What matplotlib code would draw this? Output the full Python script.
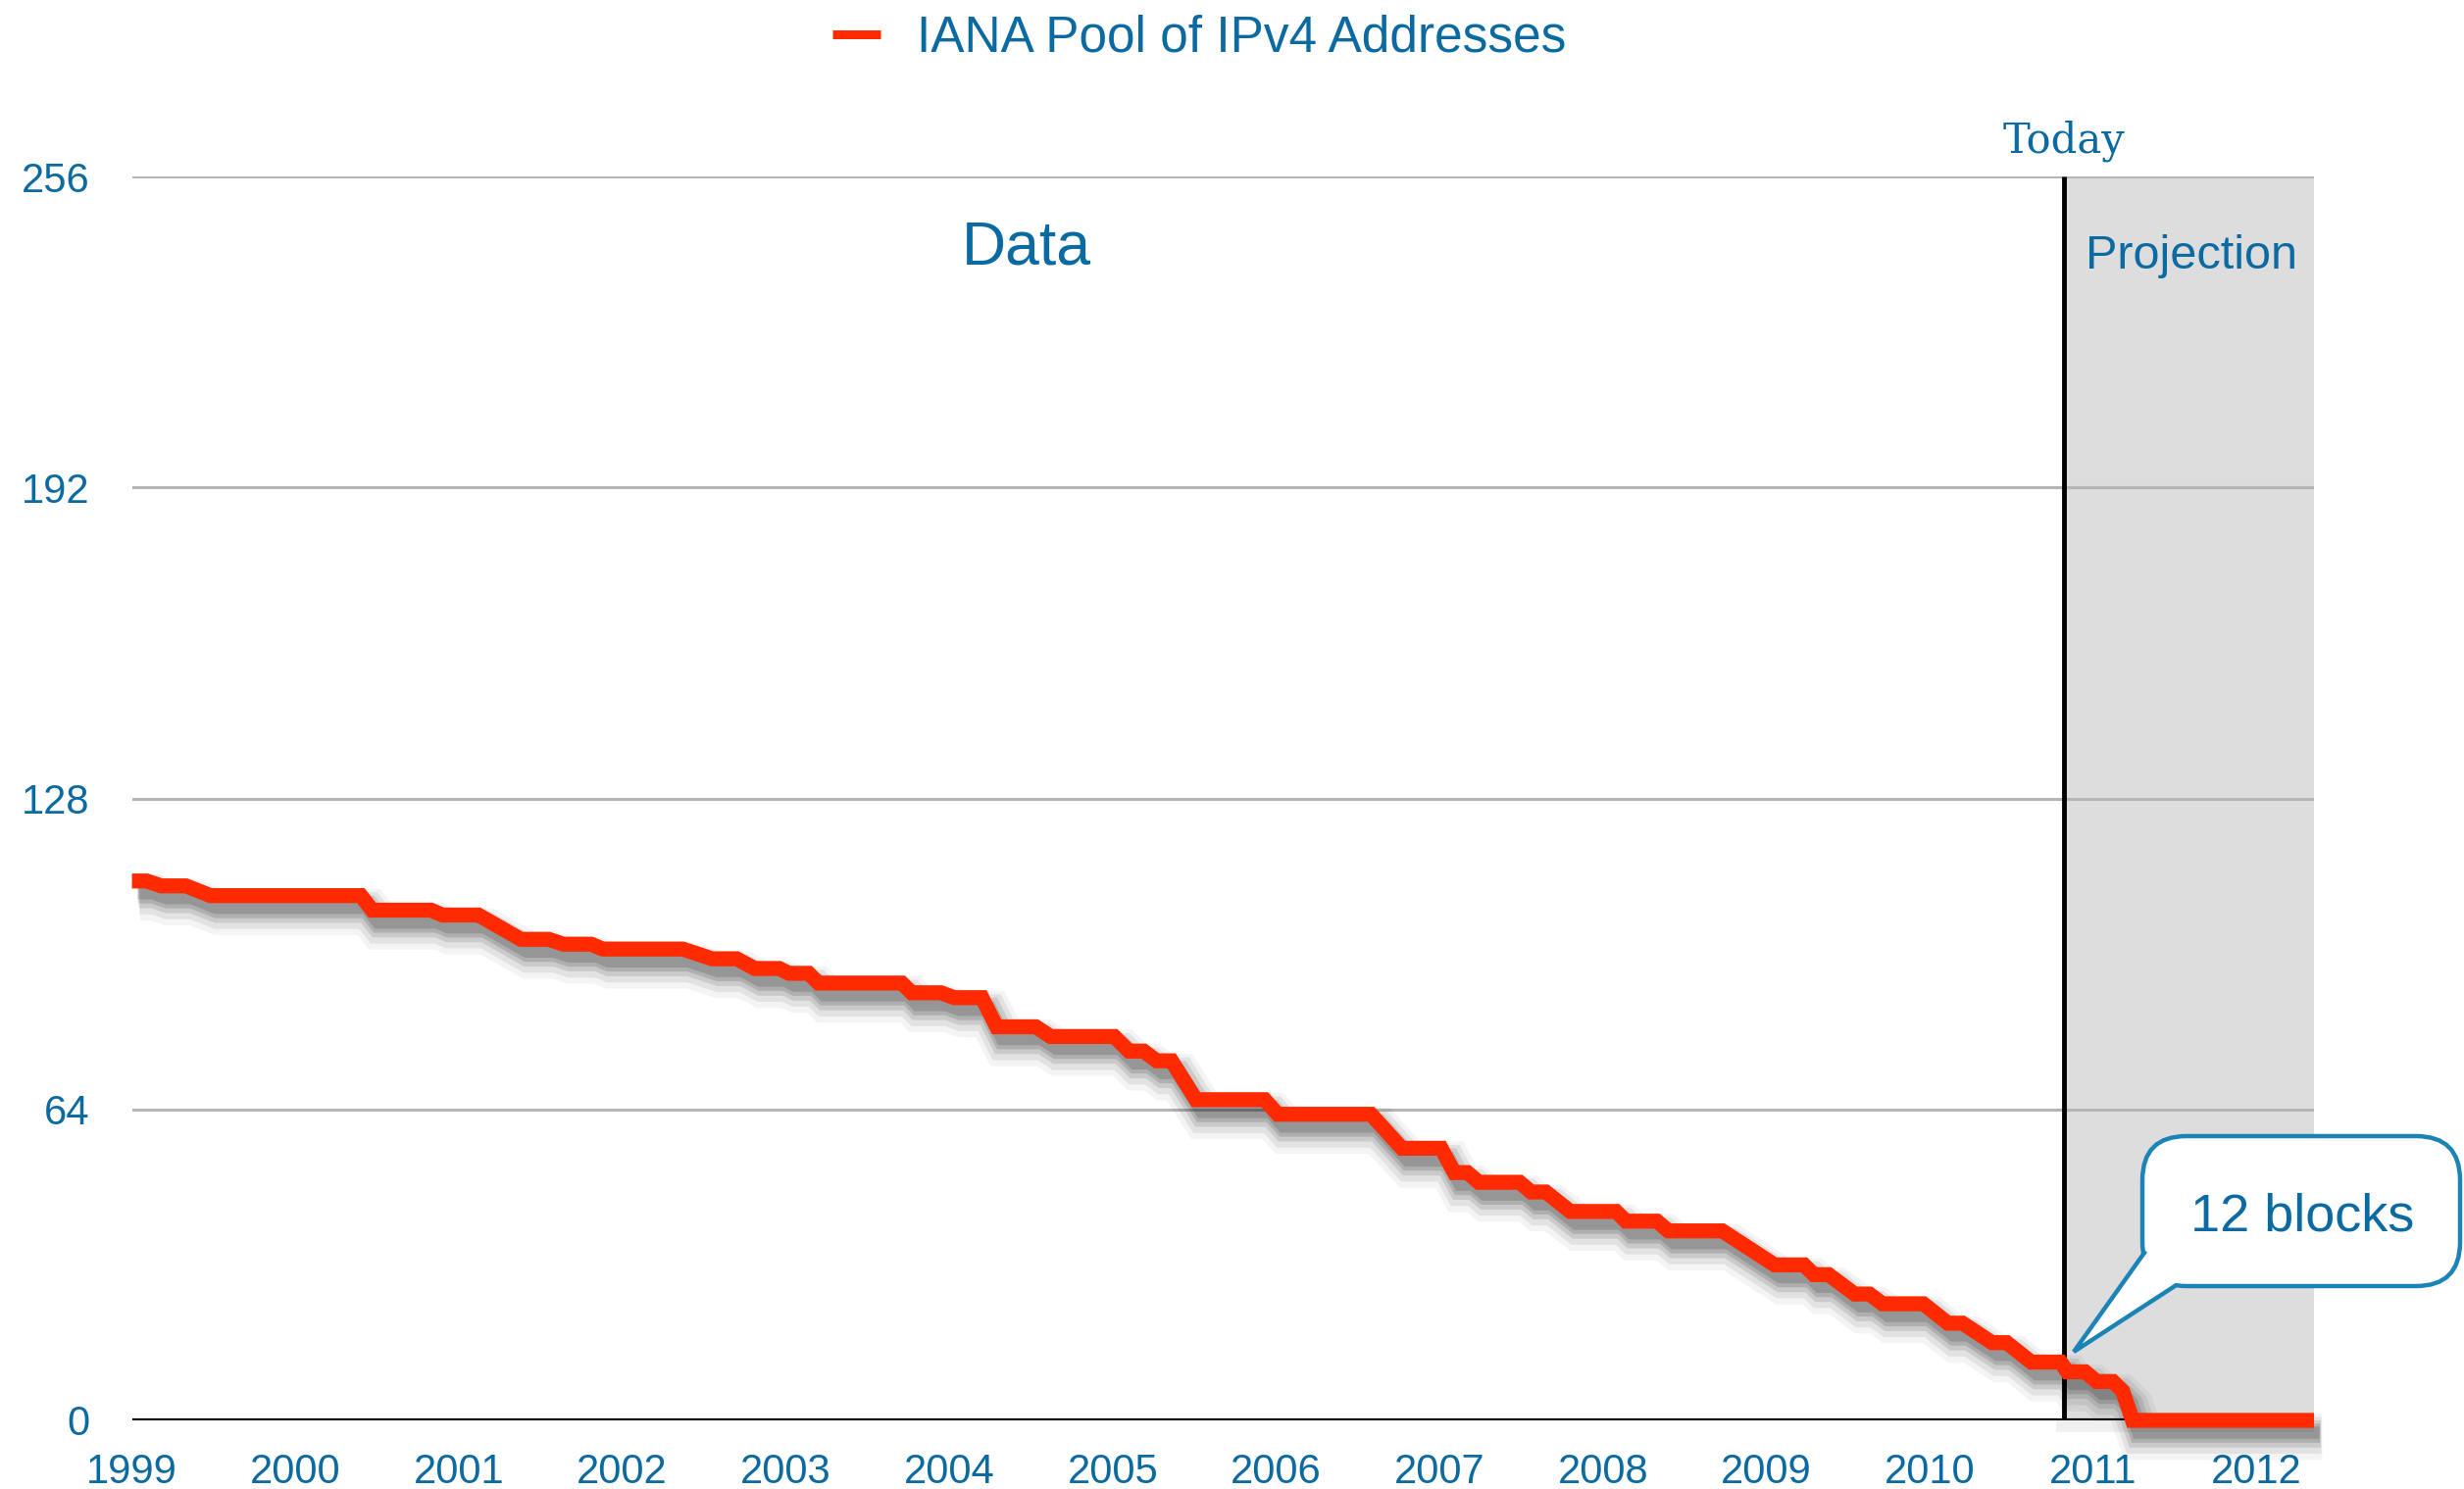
import matplotlib
matplotlib.use("Agg")
import matplotlib.pyplot as plt
import matplotlib.patheffects as pe
from matplotlib.patches import FancyBboxPatch, Polygon, Rectangle
from matplotlib.lines import Line2D

plt.rcParams['font.family'] = ['Liberation Sans', 'DejaVu Sans']

# ---- data (IANA free /8 blocks) ----
seg_start = [1999.00, 1999.18, 1999.48, 2000.47, 2000.90, 2001.38, 2001.64, 2001.88, 2002.55, 2002.81,
             2003.02, 2003.20, 2003.77, 2004.03, 2004.29, 2004.62, 2005.10, 2005.27, 2005.51, 2006.01,
             2006.77, 2007.09, 2007.24, 2007.56, 2007.80, 2008.14, 2008.40, 2009.05, 2009.29, 2009.54,
             2009.71, 2010.11, 2010.38, 2010.62, 2010.84, 2011.02, 2011.18, 2011.24]
seg_end = [1999.09, 1999.33, 2000.40, 2000.83, 2001.12, 2001.55, 2001.81, 2002.37, 2002.70, 2002.96,
           2003.14, 2003.71, 2003.95, 2004.20, 2004.53, 2005.01, 2005.19, 2005.36, 2005.93, 2006.58,
           2007.01, 2007.17, 2007.49, 2007.65, 2008.08, 2008.33, 2008.73, 2009.23, 2009.38, 2009.63,
           2009.96, 2010.20, 2010.47, 2010.80, 2010.95, 2011.12, 2011.18, 2012.35]
pool_blocks = [111, 110, 108, 105, 104, 99, 98, 97, 95, 93,
               92, 90, 88, 87, 81, 79, 76, 74, 66, 63,
               56, 51, 49, 47, 43, 41, 39, 32, 30, 26,
               24, 20, 16, 12, 10, 8, 6, 0]
year_ticks = list(range(1999, 2013))
y_ticks = [0, 64, 128, 192, 256]
today = 2010.82
x_end = 2012.35
series_label = "IANA Pool of IPv4 Addresses"
callout_text = "12 blocks"

BLUE = '#0b6aa2'
RED = '#ff2a00'

W, H = 2513, 1519
fig = plt.figure(figsize=(W / 100, H / 100), dpi=100)
ax_left, ax_right, ax_bottom, ax_top = 134.6, 2360, 1449, 180
ax = fig.add_axes([ax_left / W, 1 - ax_bottom / H, (ax_right - ax_left) / W, (ax_bottom - ax_top) / H])
ax.set_xlim(1999, x_end)
ax.set_ylim(0, 256)
for s in ax.spines.values():
    s.set_visible(False)

# projection shading
ax.axvspan(today, x_end, color='#dddddd', zorder=0, lw=0)
ax.add_patch(Rectangle((today - 0.05, -2.5), x_end - today + 0.05, 2.5, color='#f0f0f0',
                       lw=0, clip_on=False, zorder=0))

# grid
ax.set_yticks(y_ticks)
ax.set_xticks(year_ticks)
ax.yaxis.grid(True, color='#b5b5b5', lw=2.2, zorder=1)
ax.set_axisbelow(True)
ax.axhline(0, color='black', lw=3, zorder=2)
ax.plot([today, today], [0, 256], color='black', lw=3.5, zorder=3, solid_capstyle='butt')

ax.tick_params(axis='both', length=0, labelsize=30, labelcolor=BLUE)
ax.tick_params(axis='y', pad=31)
ax.tick_params(axis='x', pad=24)

# build line from level segments
xs, ys = [], []
for a, b, v in zip(seg_start, seg_end, pool_blocks):
    xs += [a, b]
    ys += [v, v]
line, = ax.plot(xs, ys, color=RED, lw=11, zorder=5, clip_on=False,
                solid_joinstyle='miter', solid_capstyle='butt')
shadow = []
for off, lw, al in [((6, -12), 34, 0.045), ((5.5, -11), 27, 0.07), ((5, -10), 20, 0.10),
                    ((4.5, -9.5), 14, 0.13), ((4, -9), 9, 0.14)]:
    shadow.append(pe.SimpleLineShadow(offset=off, shadow_color='black', alpha=al, linewidth=lw))
line.set_path_effects(shadow + [pe.Normal()])

# texts
ax.text(2004.47, 241.3, "Data", fontsize=45, color=BLUE, ha='center', va='center')
ax.text(2011.60, 239.5, "Projection", fontsize=35, color=BLUE, ha='center', va='center')
ax.text(today, 261.0, "Today", fontsize=30, color=BLUE, ha='center', va='baseline',
        family=['DejaVu Serif'], clip_on=False)

# legend
proxy = Line2D([], [], color=RED, lw=6.5, solid_capstyle='butt')
fig.legend([proxy], [series_label], loc='center left',
           bbox_to_anchor=(849 / W, 1 - 39 / H), frameon=False, fontsize=37,
           handlelength=0.95, handletextpad=0.72, borderpad=0, borderaxespad=0,
           labelcolor=BLUE)

# callout (inches, bottom-left origin)
tr = fig.dpi_scale_trans
CB = '#1b84b6'
box = FancyBboxPatch((21.85, 2.07), 3.24, 1.53, boxstyle="round,pad=0,rounding_size=0.45",
                     transform=tr, fc='white', ec=CB, lw=3.2, zorder=10)
fig.add_artist(box)
tail = Polygon([(21.88, 2.41), (21.15, 1.40), (22.18, 2.09), (22.35, 2.4)], closed=True,
               transform=tr, fc='white', ec='none', zorder=11)
fig.add_artist(tail)
fig.add_artist(Line2D([21.87, 21.15, 22.18], [2.41, 1.40, 2.07], transform=tr, color=CB,
                      lw=3.2, zorder=12, solid_joinstyle='miter'))
fig.text(23.485 / (W / 100), 2.63 / (H / 100), callout_text, fontsize=39, color=BLUE,
         ha='center', va='baseline', zorder=13)

fig.savefig("out.png", dpi=100)
